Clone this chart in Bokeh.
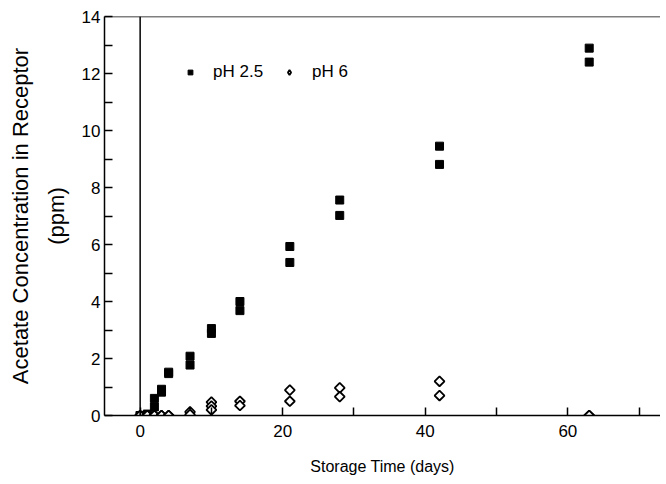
import math
from bokeh.plotting import figure
from bokeh.models import FixedTicker, Span, Legend, LegendItem, Range1d, LinearAxis
from bokeh.embed import file_html
from bokeh.resources import INLINE

# Data
days_ph25 = [0, 0, 1, 1, 2, 2, 3, 3, 4, 4, 7, 7, 10, 10, 14, 14, 21, 21, 28, 28, 42, 42, 63, 63]
conc_ph25 = [0, 0, 0.05, 0, 0.6, 0.3, 0.92, 0.82, 1.52, 1.47, 2.08, 1.77, 3.05, 2.88,
             4.0, 3.68, 5.93, 5.37, 7.56, 7.02, 9.45, 8.81, 12.89, 12.4]
days_ph6 = [0, 0, 1, 1, 2, 2, 3, 3, 4, 4, 7, 7, 10, 10, 10, 14, 14, 21, 21, 28, 28, 42, 42, 63, 63]
conc_ph6 = [0, 0, 0, 0, 0, 0, 0, 0, 0, 0, 0.13, 0.03, 0.47, 0.33, 0.2, 0.5, 0.35,
            0.89, 0.5, 0.97, 0.66, 1.2, 0.7, 0, 0]

x_ticks = [0, 20, 40, 60]
x_minor = [10, 30, 50, 70]
y_ticks = [0, 2, 4, 6, 8, 10, 12, 14]
y_minor = [1, 3, 5, 7, 9, 11, 13]

FONT = "Liberation Sans"

p = figure(width=660, height=480, output_backend="svg", toolbar_location=None,
           x_range=Range1d(-5, 73.0), y_range=Range1d(0, 14),
           min_border_left=104, min_border_right=0, min_border_top=16, min_border_bottom=65)
p.grid.grid_line_color = None
p.outline_line_color = None
p.background_fill_color = "white"

for ax in (p.xaxis[0], p.yaxis[0]):
    ax.axis_line_color = "black"
    ax.axis_line_width = 1.5
    ax.major_tick_line_color = "black"
    ax.minor_tick_line_color = "black"
    ax.major_tick_line_width = 1.5
    ax.minor_tick_line_width = 1.5
    ax.major_tick_in = 8
    ax.major_tick_out = 0
    ax.minor_tick_in = 8
    ax.minor_tick_out = 0
    ax.major_label_text_font = FONT
    ax.major_label_text_font_size = "17px"
    ax.major_label_text_color = "black"

p.xaxis.ticker = FixedTicker(ticks=x_ticks, minor_ticks=x_minor)
p.yaxis.ticker = FixedTicker(ticks=y_ticks, minor_ticks=y_minor)
p.xaxis.major_label_standoff = 9
p.yaxis.major_label_standoff = 4

p.xaxis.axis_label = "Storage Time (days)"
p.xaxis.axis_label_text_font = FONT
p.xaxis.axis_label_text_font_size = "16px"
p.xaxis.axis_label_text_font_style = "normal"
p.xaxis.axis_label_text_color = "black"
p.xaxis.axis_label_standoff = 18

# inner y title line
p.yaxis.axis_label = "(ppm)"
p.yaxis.axis_label_text_font = FONT
p.yaxis.axis_label_text_font_size = "22px"
p.yaxis.axis_label_text_font_style = "normal"
p.yaxis.axis_label_text_color = "black"
p.yaxis.axis_label_standoff = 10

# outer y title line on an extra, tick-less axis
outer = LinearAxis(ticker=FixedTicker(ticks=[], minor_ticks=[]),
                   axis_line_color=None, major_tick_line_color=None, minor_tick_line_color=None,
                   major_label_text_font_size="0px",
                   axis_label="Acetate Concentration in Receptor",
                   axis_label_text_font=FONT, axis_label_text_font_size="22px",
                   axis_label_text_font_style="normal", axis_label_text_color="black",
                   axis_label_standoff=8)
p.add_layout(outer, "left")

# top border and zero line
p.add_layout(Span(location=14, dimension="width", line_color="black", line_width=1.5))
p.add_layout(Span(location=0, dimension="height", line_color="black", line_width=1.5))

r1 = p.scatter(days_ph25, conc_ph25, marker="square", size=8, fill_color="black", line_color="black")
r2 = p.scatter(days_ph6, conc_ph6, marker="square", angle=math.pi / 4, size=7, fill_color="white",
               line_color="black", line_width=1.8)
# legend key for the open diamonds (a single undrawn NaN point)
r2_key = p.scatter([float("nan")], [float("nan")], marker="diamond", size=12, fill_color="white",
                   line_color="black", line_width=1.8)

legend = Legend(items=[LegendItem(label="pH 2.5", renderers=[r1]),
                       LegendItem(label="pH 6", renderers=[r2_key])],
                orientation="horizontal", location=(80, 333),
                border_line_color=None, background_fill_alpha=0,
                padding=0, margin=0, glyph_width=12, glyph_height=20,
                label_standoff=17, spacing=20,
                label_text_font=FONT, label_text_font_size="17px", label_text_color="black")
p.add_layout(legend)

open("out.html", "w").write(file_html(p, INLINE))
